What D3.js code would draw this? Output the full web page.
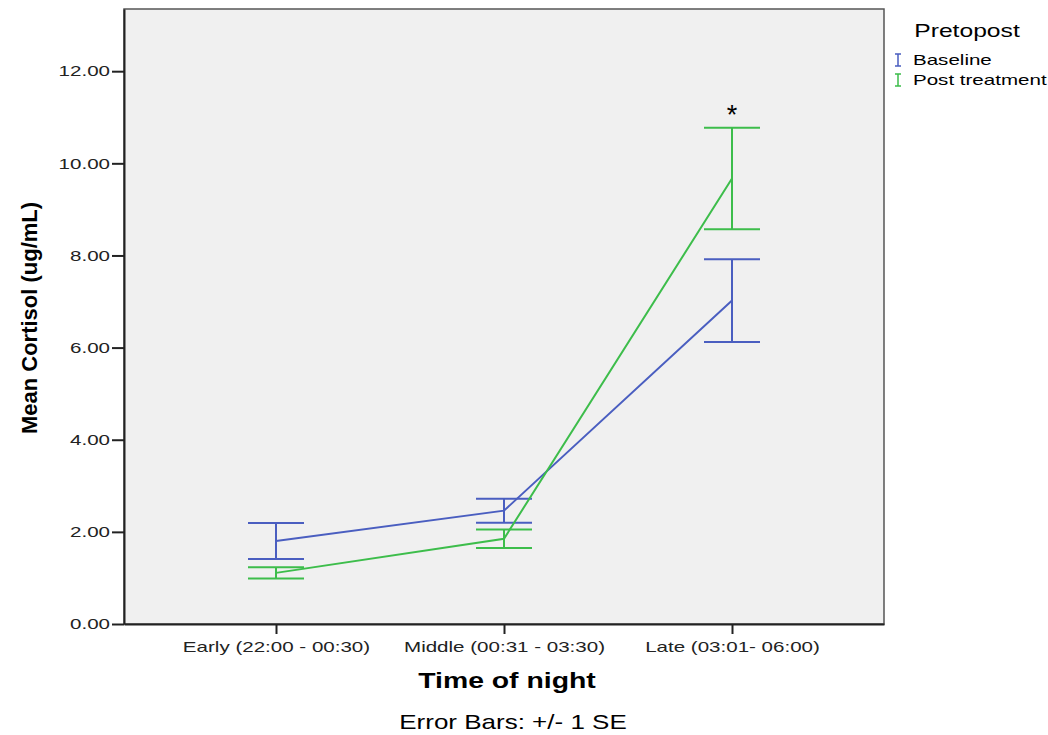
<!DOCTYPE html>
<html>
<head>
<meta charset="utf-8">
<script src="https://cdn.jsdelivr.net/npm/d3@7"></script>
<style>
  body { margin: 0; background: #fff; }
  text { font-family: "Liberation Sans", Arial, sans-serif; }
</style>
</head>
<body>
<svg id="chart" width="1048" height="735"></svg>
<script>
// data
var categories = ["Early (22:00 - 00:30)", "Middle (00:31 - 03:30)", "Late (03:01- 06:00)"];
var seriesNames = ["Baseline", "Post treatment"];
var baselineMean = [1.80, 2.46, 7.02];
var baselineSE   = [0.39, 0.26, 0.90];
var postMean     = [1.11, 1.85, 9.67];
var postSE       = [0.12, 0.20, 1.10];
var yTicks = [0, 2, 4, 6, 8, 10, 12];
var colors = ["#4a5ec0", "#3dbd4b"];

var svg = d3.select("#chart"),
    plotLeft = 124, plotRight = 884, plotTop = 9, plotBottom = 624;

// the text in the original is stretched sideways; stretch around the anchor point
function stretch(sx) {
  return function (sel) {
    sel.each(function () {
      var t = d3.select(this), x = +(t.attr("x") || 0);
      t.attr("x", x / sx).attr("transform", "scale(" + sx + ",1)");
    });
  };
}

var xScale = d3.scalePoint().domain(categories).range([plotLeft, plotRight]).padding(2 / 3),
    yScale = d3.scaleLinear().domain([0, 13.35]).range([plotBottom, plotTop]);

// plot background
svg.append("rect")
  .attr("x", plotLeft).attr("y", plotTop)
  .attr("width", plotRight - plotLeft).attr("height", plotBottom - plotTop)
  .attr("fill", "#f0f0f0")
  .attr("stroke", "#555").attr("stroke-width", 1.5);

// axes
var yAxis = svg.append("g")
  .attr("transform", "translate(" + plotLeft + ",0)")
  .call(d3.axisLeft(yScale).tickValues(yTicks).tickFormat(d3.format(".2f"))
    .tickSize(12).tickSizeOuter(0).tickPadding(2));
var xAxis = svg.append("g")
  .attr("transform", "translate(0," + plotBottom + ")")
  .call(d3.axisBottom(xScale).tickSize(10).tickSizeOuter(0).tickPadding(7));
[yAxis, xAxis].forEach(function (ax) {
  ax.select(".domain").attr("stroke", "#222").attr("stroke-width", 2);
  ax.selectAll(".tick line").attr("stroke", "#222").attr("stroke-width", 2);
  ax.selectAll(".tick text").attr("fill", "#222")
    .style("font-family", "Liberation Sans, Arial, sans-serif")
    .style("font-size", "15px")
    .call(stretch(1.37));
});

var series = [
  { name: seriesNames[0], mean: baselineMean, se: baselineSE, color: colors[0] },
  { name: seriesNames[1], mean: postMean, se: postSE, color: colors[1] }
];

var line = d3.line()
  .x(function (d) { return xScale(d.cat); })
  .y(function (d) { return yScale(d.v); });

var capW = 28;
series.forEach(function (s) {
  var pts = categories.map(function (c, i) { return { cat: c, v: s.mean[i], se: s.se[i] }; });
  var g = svg.append("g").attr("stroke", s.color).attr("stroke-width", 2).attr("fill", "none");

  g.append("path").attr("d", line(pts));

  g.selectAll(".bar").data(pts).enter().append("line")
    .attr("x1", function (d) { return xScale(d.cat); })
    .attr("x2", function (d) { return xScale(d.cat); })
    .attr("y1", function (d) { return yScale(d.v - d.se); })
    .attr("y2", function (d) { return yScale(d.v + d.se); });

  [-1, 1].forEach(function (sign) {
    g.selectAll(".cap" + sign).data(pts).enter().append("line")
      .attr("x1", function (d) { return xScale(d.cat) - capW; })
      .attr("x2", function (d) { return xScale(d.cat) + capW; })
      .attr("y1", function (d) { return yScale(d.v + sign * d.se); })
      .attr("y2", function (d) { return yScale(d.v + sign * d.se); });
  });
});

// significance marker
svg.append("text")
  .attr("x", xScale(categories[2]))
  .attr("y", yScale(postMean[2] + postSE[2]) - 4)
  .attr("text-anchor", "middle")
  .style("font-size", "27px")
  .text("*");

// axis titles
svg.append("text")
  .attr("x", 507)
  .attr("y", 688)
  .attr("text-anchor", "middle")
  .style("font-size", "22px").style("font-weight", "bold")
  .text("Time of night")
  .call(stretch(1.29));

svg.append("text")
  .attr("text-anchor", "middle")
  .attr("transform", "translate(37,318)rotate(-90)")
  .style("font-size", "22px").style("font-weight", "bold")
  .text("Mean Cortisol (ug/mL)");

svg.append("text")
  .attr("x", 513)
  .attr("y", 729)
  .attr("text-anchor", "middle")
  .style("font-size", "20px")
  .text("Error Bars: +/- 1 SE")
  .call(stretch(1.3));

// legend
var legend = svg.append("g");
legend.append("text")
  .attr("x", 967).attr("y", 37)
  .attr("text-anchor", "middle")
  .style("font-size", "18px")
  .text("Pretopost")
  .call(stretch(1.37));

series.forEach(function (s, i) {
  var y = 60 + i * 20;
  var item = legend.append("g").attr("transform", "translate(898," + y + ")");
  item.append("path")
    .attr("d", "M-3,-6H3M0,-6V6M-3,6H3")
    .attr("stroke", s.color).attr("stroke-width", 1.5).attr("fill", "none");
  item.append("text")
    .attr("x", 15).attr("y", 5)
    .style("font-size", "15px")
    .text(s.name)
    .call(stretch(1.37));
});
</script>
</body>
</html>
